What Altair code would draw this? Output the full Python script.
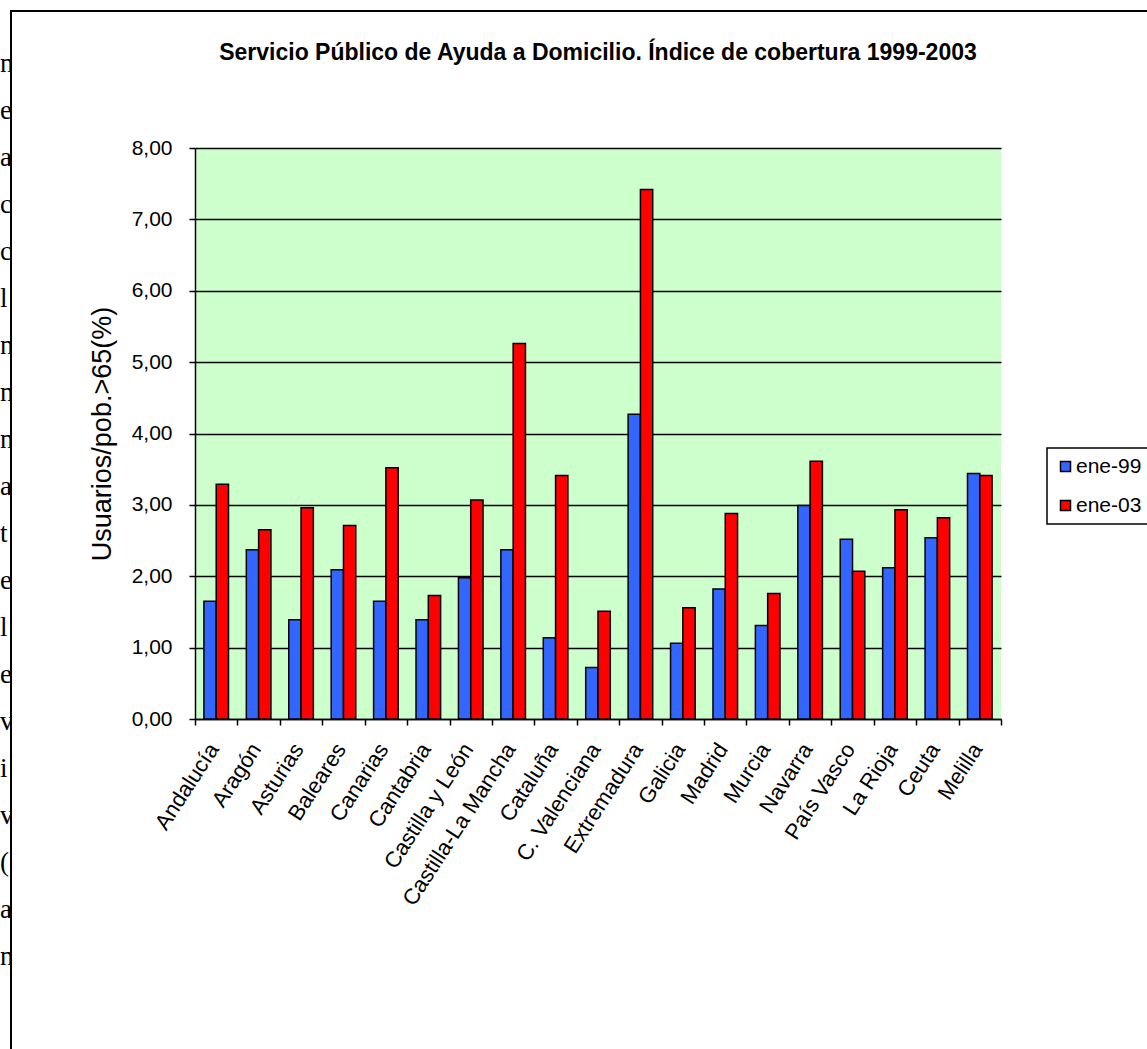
import altair as alt
import pandas as pd

# ---- data ----
categories = ["Andalucía", "Aragón", "Asturias", "Baleares", "Canarias", "Cantabria",
              "Castilla y León", "Castilla-La Mancha", "Cataluña", "C. Valenciana",
              "Extremadura", "Galicia", "Madrid", "Murcia", "Navarra", "País Vasco",
              "La Rioja", "Ceuta", "Melilla"]
ene_99 = [1.65, 2.37, 1.39, 2.09, 1.65, 1.39, 1.98, 2.37, 1.14, 0.72,
          4.27, 1.06, 1.82, 1.31, 2.99, 2.52, 2.12, 2.54, 3.44]
ene_03 = [3.29, 2.65, 2.96, 2.71, 3.52, 1.73, 3.07, 5.26, 3.41, 1.51,
          7.42, 1.56, 2.88, 1.76, 3.61, 2.07, 2.93, 2.82, 3.41]
series = ["ene-99", "ene-03"]
series_colors = ["#3366FF", "#FF0000"]
y_ticks = [0, 1, 2, 3, 4, 5, 6, 7, 8]
title_text = "Servicio Público de Ayuda a Domicilio. Índice de cobertura 1999-2003"
y_title = "Usuarios/pob.>65(%)"
side_letters = ["n", "e", "a", "c", "c", "l", "n", "n", "n", "a",
                "t", "e", "l", "e", "v", "i", "v", "(", "a", "n"]

rows = []
for i, c in enumerate(categories):
    rows.append({"cat": c, "serie": series[0], "valor": ene_99[i]})
    rows.append({"cat": c, "serie": series[1], "valor": ene_03[i]})
df = pd.DataFrame(rows)

W, H = 806, 571
LEFT, TOP = 195, 148
SANS = "Liberation Sans"

one = pd.DataFrame({"k": [0]})

letters = alt.Chart(one).mark_text(
    text=side_letters, lineHeight=47, font="Liberation Serif", fontSize=27,
    align="left", baseline="alphabetic", color="black"
).encode(x=alt.value(-LEFT), y=alt.value(72 - TOP))

clip = alt.Chart(one).mark_rect(color="white").encode(
    x=alt.value(12 - LEFT), x2=alt.value(60 - LEFT),
    y=alt.value(-TOP), y2=alt.value(1049 - TOP)
)

frame = alt.Chart(one).mark_rect(fill="white", fillOpacity=0, stroke="black", strokeWidth=2).encode(
    x=alt.value(11 - LEFT), x2=alt.value(1300),
    y=alt.value(11 - TOP), y2=alt.value(1100)
)

title = alt.Chart(one).mark_text(
    text=title_text, font=SANS, fontSize=23, fontWeight="bold",
    align="center", baseline="middle", color="black"
).encode(x=alt.value(W / 2), y=alt.value(53 - TOP))

bars = alt.Chart(df).mark_bar(stroke="black", strokeWidth=1.5).encode(
    x=alt.X("cat:N", sort=categories,
            scale=alt.Scale(paddingInner=0, paddingOuter=0),
            axis=alt.Axis(title=None, labelAngle=-57, labelAlign="right", labelBaseline="middle",
                          labelFont=SANS, labelFontSize=22, labelColor="black", labelPadding=20,
                          labelOffset=-3, labelLimit=0,
                          tickBand="extent", ticks=True, tickSize=6, tickColor="black", tickWidth=1.5,
                          domainColor="black", domainWidth=1.5, grid=False, labelOverlap=False)),
    xOffset=alt.XOffset("serie:N", sort=series,
                        scale=alt.Scale(paddingInner=0, paddingOuter=0.725)),
    y=alt.Y("valor:Q", scale=alt.Scale(domain=[0, 8], nice=False),
            axis=alt.Axis(values=y_ticks, labelExpr="replace(format(datum.value, '.2f'), '.', ',')",
                          labelFont=SANS, labelFontSize=21, labelColor="black", labelPadding=17,
                          tickSize=6, tickColor="black", tickWidth=1.5,
                          domainColor="black", domainWidth=1.5,
                          grid=True, gridColor="black", gridWidth=1.5,
                          title=y_title, titleFont=SANS, titleFontSize=27, titleFontWeight="normal",
                          titleColor="black", titleAngle=270, titleAlign="center",
                          titleBaseline="middle", titleX=102 - LEFT, titleY=H / 2)),
    color=alt.Color("serie:N", sort=series,
                    scale=alt.Scale(domain=series, range=series_colors),
                    legend=alt.Legend(title=None, orient="none", legendX=1047 - LEFT, legendY=448 - TOP,
                                      strokeColor="black", fillColor="white", padding=8,
                                      symbolType="square", symbolSize=100,
                                      symbolStrokeColor="black", symbolStrokeWidth=1.5,
                                      labelFont=SANS, labelFontSize=21, labelColor="black",
                                      labelOffset=0, rowPadding=17))
)

chart = alt.layer(letters, clip, frame, title, bars).properties(
    width=W, height=H,
    autosize=alt.AutoSizeParams(type="none"),
    padding={"left": LEFT, "top": TOP, "right": 1147 - LEFT - W, "bottom": 1049 - TOP - H},
    background="white"
).configure_view(fill="#CCFFCC", stroke=None).configure_legend(strokeWidth=1.5)

chart.save("out.html", embed_options={"renderer": "svg", "actions": False})
